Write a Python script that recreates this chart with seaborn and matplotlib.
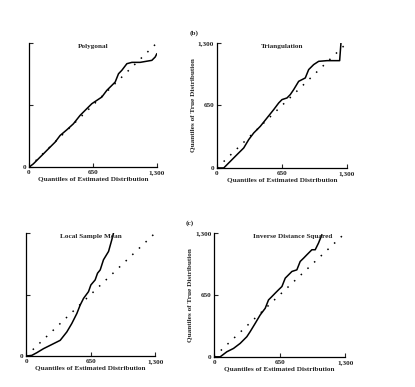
import numpy as np
import matplotlib
matplotlib.use("Agg")
import matplotlib.pyplot as plt
import seaborn as sns

# quantile curves (estimated vs true)
poly_x = [0, 44, 112, 163, 214, 265, 316, 384, 451, 519, 587, 638, 689, 740, 791, 842, 876, 910, 943, 995, 1046, 1130, 1249, 1283, 1300]
poly_y = [0, 35, 105, 157, 210, 262, 332, 391, 454, 542, 612, 664, 699, 734, 804, 856, 891, 978, 1013, 1083, 1097, 1097, 1118, 1153, 1188]

tri_x = [0, 67, 133, 200, 267, 317, 367, 433, 500, 567, 617, 650, 700, 733, 767, 817, 883, 917, 967, 1017, 1100, 1227, 1240]
tri_y = [0, 0, 69, 139, 208, 295, 364, 433, 520, 607, 676, 711, 728, 763, 815, 901, 936, 1023, 1075, 1109, 1116, 1116, 1300]

lsm_x = [0, 57, 107, 175, 242, 343, 410, 460, 511, 544, 578, 628, 652, 695, 719, 746, 779, 830, 863, 880]
lsm_y = [0, 7, 35, 78, 113, 166, 255, 344, 450, 538, 609, 680, 751, 804, 875, 910, 1017, 1105, 1229, 1300]

ids_x = [0, 60, 126, 192, 258, 324, 357, 407, 456, 506, 539, 572, 605, 638, 672, 705, 738, 771, 820, 853, 887, 920, 969, 1002, 1035, 1068]
ids_y = [0, 0, 53, 88, 141, 211, 264, 351, 439, 509, 597, 632, 668, 703, 738, 826, 861, 896, 913, 1001, 1036, 1072, 1124, 1124, 1195, 1282]

diag = [0, 1300]
titles = ["Polygonal", "Triangulation", "Local Sample Mean", "Inverse Distance Squared"]
xtick_vals = [0, 650, 1300]
xtick_labels = ["0", "650", "1,300"]

sns.set_style("ticks")
plt.rcParams['font.family'] = ['Liberation Serif', 'DejaVu Serif']
plt.rcParams['font.weight'] = 'bold'
plt.rcParams['axes.labelweight'] = 'bold'

fs = 5.2
fig = plt.figure(figsize=(4.15, 3.87), dpi=100)
boxes = [[0.070, 0.568, 0.308, 0.321],
         [0.523, 0.566, 0.313, 0.323],
         [0.063, 0.080, 0.311, 0.318],
         [0.516, 0.078, 0.316, 0.320]]
curves = [(poly_x, poly_y), (tri_x, tri_y), (lsm_x, lsm_y), (ids_x, ids_y)]

for i, (box, (cx, cy)) in enumerate(zip(boxes, curves)):
    ax = fig.add_axes(box)
    sns.lineplot(x=diag, y=diag, ax=ax, color="black", lw=1.1,
                 linestyle=(0, (1, 5)), dashes=False)
    sns.lineplot(x=cx, y=cy, ax=ax, color="black", lw=1.1, sort=False,
                 estimator=None)
    ax.set_xlim(0, 1300)
    ax.set_ylim(0, 1300)
    sns.despine(ax=ax)
    for s in ["left", "bottom"]:
        ax.spines[s].set_linewidth(0.9)
        ax.spines[s].set_color("black")
    ax.set_xticks(xtick_vals)
    ax.set_xticklabels(xtick_labels, fontweight="bold")
    ax.set_yticks(xtick_vals)
    if i % 2 == 1:
        ax.set_yticklabels(xtick_labels, fontweight="bold")
        ax.set_ylabel("Quantiles of True Distribution", fontsize=fs,
                      labelpad=2, fontweight="bold")
    else:
        ax.set_yticklabels(["0", "", ""], fontweight="bold")
    ax.tick_params(direction="in", length=3, width=0.8, labelsize=fs, pad=2)
    ax.set_xlabel("Quantiles of Estimated Distribution", fontsize=fs,
                  labelpad=1, fontweight="bold")
    ax.text(0.5 if i != 3 else 0.6, 0.99, titles[i], transform=ax.transAxes,
            ha="center", va="top", fontsize=fs, fontweight="bold")

fig.text(190 / 415, 1 - 33 / 387, "(b)", fontsize=fs, ha="left", va="center",
         fontweight="bold")
fig.text(186 / 415, 1 - 223 / 387, "(c)", fontsize=fs, ha="left", va="center",
         fontweight="bold")

fig.savefig("out.png", dpi=100, facecolor="white")
